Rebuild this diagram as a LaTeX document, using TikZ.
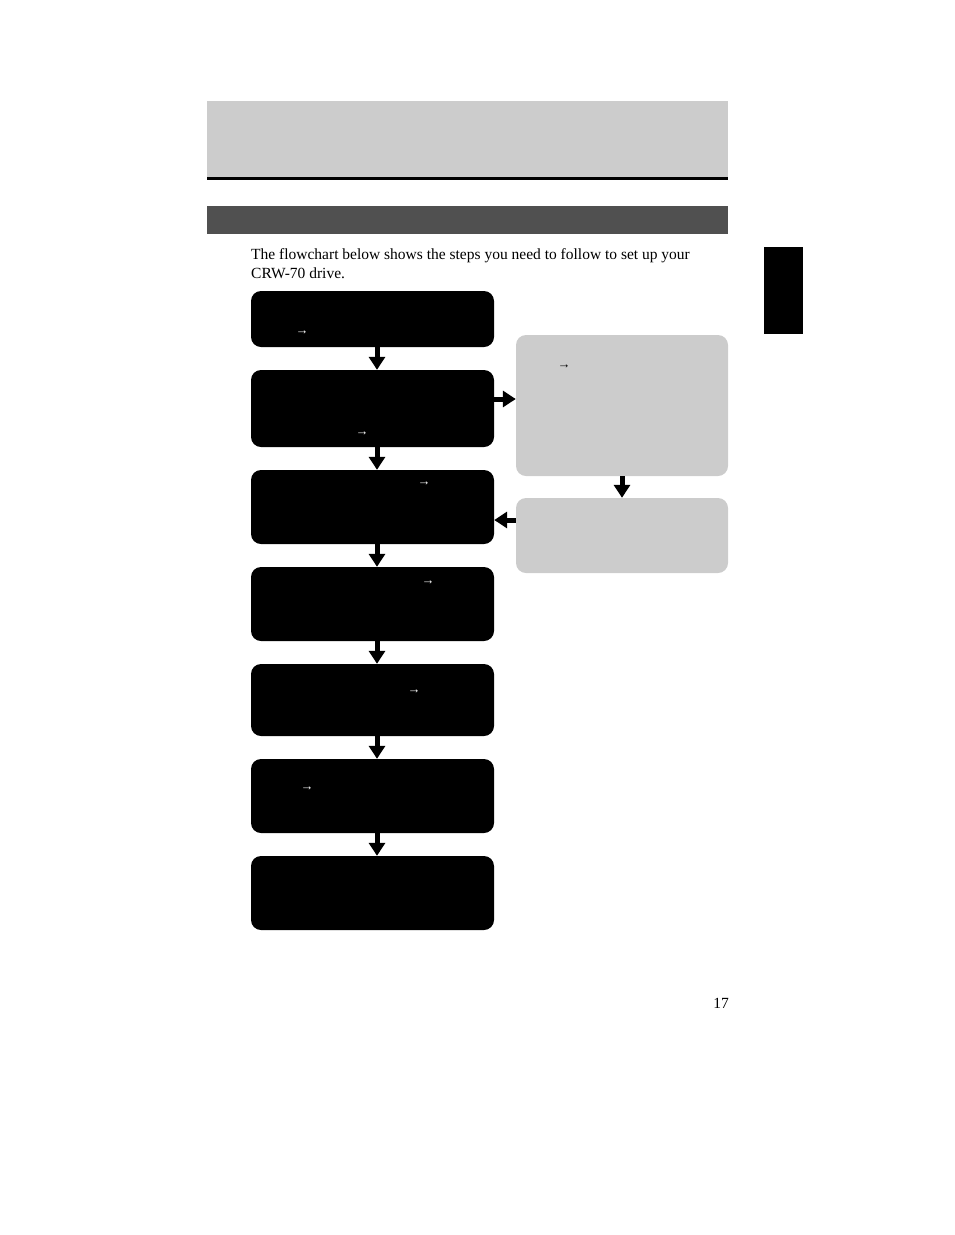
\documentclass[tikz,border=0pt]{standalone}
\usepackage{fontspec}
\setmainfont{Liberation Serif}
\usetikzlibrary{arrows.meta}
\definecolor{hdrgray}{HTML}{CCCCCC}
\definecolor{bargray}{HTML}{505050}
\begin{document}
\begin{tikzpicture}[x=1pt,y=-1pt,
  blackbox/.style={fill=black,rounded corners=10pt,minimum width=243pt,inner sep=0pt,draw=none},
  graybox/.style={fill=hdrgray,rounded corners=10pt,minimum width=212pt,inner sep=0pt,draw=none},
  fat/.style={line width=5pt,-{Triangle[width=16pt,length=13pt]}},
  tinyarrow/.style={inner sep=0pt,font=\fontsize{13}{13}\selectfont},
  body/.style={inner sep=0pt,anchor=base west,font=\fontsize{15.5}{18}\selectfont}]
\useasboundingbox (0,0) rectangle (954,1235);
% header
\fill[hdrgray] (207,101) rectangle (728,177);
\fill[black] (207,177) rectangle (728,180);
\fill[bargray] (207,206) rectangle (728,234);
\fill[black] (764,247) rectangle (803,334);
\node[body] (l1) at (251,259.5) {The flowchart below shows the steps you need to follow to set up your};
\node[body] (l2) at (251,278) {CRW-70 drive.};
% boxes
\node[blackbox,minimum height=56pt] (b1) at (372.5,319) {};
\node[blackbox,minimum height=77pt] (b2) at (372.5,408.5) {};
\node[blackbox,minimum height=74pt] (b3) at (372.5,507) {};
\node[blackbox,minimum height=74pt] (b4) at (372.5,604) {};
\node[blackbox,minimum height=72pt] (b5) at (372.5,700) {};
\node[blackbox,minimum height=74pt] (b6) at (372.5,796) {};
\node[blackbox,minimum height=74pt] (b7) at (372.5,893) {};
\node[graybox,minimum height=141pt] (ga) at (622,405.5) {};
\node[graybox,minimum height=75pt] (gb) at (622,535.5) {};
% small arrows
\node[tinyarrow,text=white] (t1) at (302,332.5) {→};
\node[tinyarrow,text=white] (t2) at (362,433.5) {→};
\node[tinyarrow,text=white] (t3) at (424,483.5) {→};
\node[tinyarrow,text=white] (t4) at (428,582.5) {→};
\node[tinyarrow,text=white] (t5) at (414,691.5) {→};
\node[tinyarrow,text=white] (t6) at (307,789) {→};
\node[tinyarrow,text=black] (t7) at (564,367) {→};
% connectors
\coordinate (ax) at (377,0);
\coordinate (r1) at (0,399);
\coordinate (r2) at (0,520);
\draw[fat] (b1.south -| ax) -- (b2.north -| ax);
\draw[fat] (b2.south -| ax) -- (b3.north -| ax);
\draw[fat] (b3.south -| ax) -- (b4.north -| ax);
\draw[fat] (b4.south -| ax) -- (b5.north -| ax);
\draw[fat] (b5.south -| ax) -- (b6.north -| ax);
\draw[fat] (b6.south -| ax) -- (b7.north -| ax);
\draw[fat] (b2.east |- r1) -- (ga.west |- r1);
\draw[fat] (ga.south) -- (gb.north);
\draw[fat] (gb.west |- r2) -- (b3.east |- r2);
% page number
\node[body,anchor=base east] (pn) at (729,1008) {17};
\end{tikzpicture}
\end{document}
